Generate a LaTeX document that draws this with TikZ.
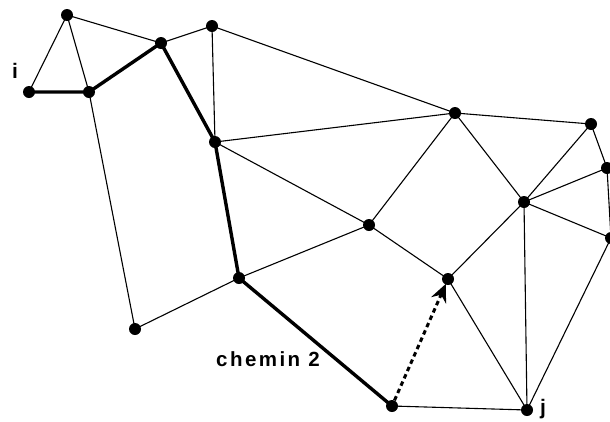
\documentclass[tikz,border=0pt]{standalone}
\usepackage{fontspec}
\setmainfont{Liberation Sans}
\newfontfamily\spacedfont[LetterSpace=12]{Liberation Sans}
\usetikzlibrary{arrows.meta}
\begin{document}
\begin{tikzpicture}[x=1pt,y=-1pt,
  vtx/.style={circle,fill=black,inner sep=0pt,minimum size=12pt},
  edge/.style={line width=1.1pt},
  path/.style={line width=3.4pt},
  jump/.style={line width=3pt,dash pattern=on 4.5pt off 3.5pt,shorten >=-1pt,-{Stealth[length=18pt,width=16pt,inset=6pt]}},
  lbl/.style={font=\bfseries\fontsize{21}{24}\selectfont,inner sep=0pt}]
\useasboundingbox (0,0) rectangle (610,421);
\node[vtx] (A) at (67,15) {};
\node[vtx] (I0) at (29,92) {};
\node[vtx] (B) at (89,92) {};
\node[vtx] (C) at (161,43) {};
\node[vtx] (D) at (212,26) {};
\node[vtx] (E) at (215,142) {};
\node[vtx] (F) at (455,113) {};
\node[vtx] (G) at (591,124) {};
\node[vtx] (H) at (607,168) {};
\node[vtx] (Ir) at (611,238) {};
\node[vtx] (J) at (524,202) {};
\node[vtx] (K) at (369,225) {};
\node[vtx] (L) at (448,279) {};
\node[vtx] (M) at (239,278) {};
\node[vtx] (N) at (135,329) {};
\node[vtx] (O) at (392,406) {};
\node[vtx] (P) at (527,410) {};
\draw[edge] (A.center) -- (I0.center);
\draw[edge] (A.center) -- (B.center);
\draw[edge] (A.center) -- (C.center);
\draw[edge] (C.center) -- (D.center);
\draw[edge] (D.center) -- (E.center);
\draw[edge] (D.center) -- (F.center);
\draw[edge] (E.center) -- (F.center);
\draw[edge] (E.center) -- (K.center);
\draw[edge] (B.center) -- (N.center);
\draw[edge] (N.center) -- (M.center);
\draw[edge] (M.center) -- (K.center);
\draw[edge] (K.center) -- (F.center);
\draw[edge] (K.center) -- (L.center);
\draw[edge] (F.center) -- (J.center);
\draw[edge] (F.center) -- (G.center);
\draw[edge] (G.center) -- (J.center);
\draw[edge] (G.center) -- (H.center);
\draw[edge] (H.center) -- (J.center);
\draw[edge] (H.center) -- (Ir.center);
\draw[edge] (J.center) -- (Ir.center);
\draw[edge] (J.center) -- (L.center);
\draw[edge] (J.center) -- (P.center);
\draw[edge] (L.center) -- (P.center);
\draw[edge] (Ir.center) -- (P.center);
\draw[edge] (O.center) -- (P.center);
\draw[path,line join=round] (I0.center) -- (B.center) -- (C.center) -- (E.center) -- (M.center) -- (O.center);
\draw[jump] (O) -- (L);
\node[lbl] (li) at (15,71) {i};
\node[lbl] (lj) at (543,409) {j};
\node[lbl,font=\spacedfont\bfseries\fontsize{20.5}{24}\selectfont] (lc) at (268,359) {chemin 2};
\end{tikzpicture}
\end{document}
